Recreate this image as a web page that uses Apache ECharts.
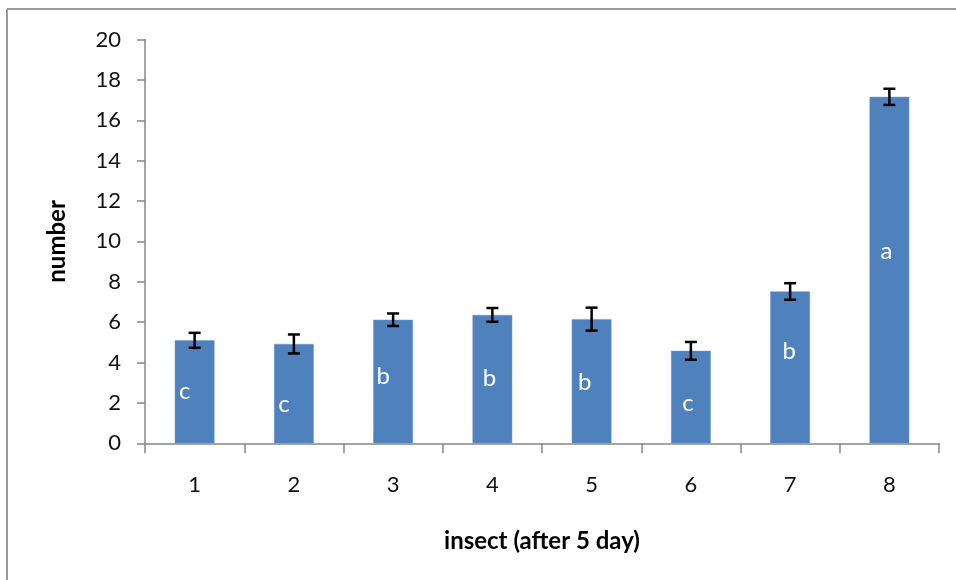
<!DOCTYPE html>
<html>
<head>
<meta charset="utf-8">
<script src="https://cdn.jsdelivr.net/npm/echarts@6/dist/echarts.min.js"></script>
<style>
  html, body { margin: 0; padding: 0; background: #ffffff; }
  #chart { width: 956px; height: 580px; }
</style>
</head>
<body>
<div id="chart"></div>
<script>
// Insect counts after 5 days: mean, error (±) and significance group per insect
const categories = ['1', '2', '3', '4', '5', '6', '7', '8'];
const means = [5.1, 4.92, 6.12, 6.36, 6.15, 4.58, 7.52, 17.16];
const errors = [0.37, 0.47, 0.31, 0.34, 0.57, 0.44, 0.41, 0.4];
const groups = ['c', 'c', 'b', 'b', 'b', 'c', 'b', 'a'];
const yTicks = [0, 2, 4, 6, 8, 10, 12, 14, 16, 18, 20];

// where each group letter sits inside its bar (value units, pixel shift)
const letterHeight = [2.57, 1.95, 3.3, 3.2, 3.02, 2.0, 4.55, 9.5];
const letterShift = [-10, -10, -10, -3, -7, -3, -1, -3];

const FONT = 'Lato, "Open Sans", sans-serif';
const AXIS_GREY = '#878787';

const chart = echarts.init(document.getElementById('chart'), null, { renderer: 'canvas' });

chart.setOption({
  backgroundColor: '#ffffff',
  animation: false,
  grid: { left: 145, right: 17, top: 39.5, bottom: 136.7, containLabel: false },
  graphic: [
    { type: 'line', shape: { x1: 7, y1: 9, x2: 956, y2: 9 }, style: { stroke: '#9a9a9a', lineWidth: 2 } },
    { type: 'line', shape: { x1: 7, y1: 9, x2: 7, y2: 580 }, style: { stroke: '#9a9a9a', lineWidth: 2 } }
  ],
  xAxis: {
    type: 'category',
    data: categories,
    boundaryGap: true,
    name: 'insect (after 5 day)',
    nameLocation: 'middle',
    nameGap: 86,
    nameTextStyle: { fontFamily: FONT, fontSize: 24, fontWeight: 'bold', color: '#000' },
    axisLine: { lineStyle: { color: AXIS_GREY, width: 1.5 } },
    axisTick: { show: true, length: 10, alignWithLabel: false, lineStyle: { color: AXIS_GREY, width: 1.5 } },
    axisLabel: { fontFamily: FONT, fontSize: 22, color: '#111', margin: 31 },
    splitLine: { show: false }
  },
  yAxis: {
    type: 'value',
    min: yTicks[0],
    max: yTicks[yTicks.length - 1],
    interval: yTicks[1] - yTicks[0],
    name: 'number',
    nameLocation: 'middle',
    nameGap: 76,
    nameRotate: 90,
    nameTextStyle: { fontFamily: FONT, fontSize: 24, fontWeight: 'bold', color: '#000' },
    axisLine: { show: true, lineStyle: { color: AXIS_GREY, width: 1.5 } },
    axisTick: { show: true, length: 8, lineStyle: { color: AXIS_GREY, width: 1.5 } },
    axisLabel: { fontFamily: FONT, fontSize: 22, color: '#111', margin: 24 },
    splitLine: { show: false }
  },
  series: [
    {
      type: 'bar',
      data: means,
      barWidth: '40%',
      itemStyle: { color: '#4F81BD', borderColor: '#6b96c9', borderWidth: 0.5 },
      z: 2
    },
    {
      // error bars with caps
      type: 'custom',
      data: means.map((m, i) => [i, m - errors[i], m + errors[i]]),
      renderItem: function (params, api) {
        const x = api.value(0);
        const lo = api.coord([x, api.value(1)]);
        const hi = api.coord([x, api.value(2)]);
        const cap = 6;
        const style = { stroke: '#000', lineWidth: 2.5, fill: null };
        return {
          type: 'group',
          children: [
            { type: 'line', shape: { x1: lo[0], y1: lo[1], x2: hi[0], y2: hi[1] }, style: style },
            { type: 'line', shape: { x1: hi[0] - cap, y1: hi[1], x2: hi[0] + cap, y2: hi[1] }, style: style },
            { type: 'line', shape: { x1: lo[0] - cap, y1: lo[1], x2: lo[0] + cap, y2: lo[1] }, style: style }
          ]
        };
      },
      z: 3
    },
    {
      // significance letters inside the bars
      type: 'custom',
      data: groups.map((g, i) => [i, letterHeight[i], g]),
      renderItem: function (params, api) {
        const i = params.dataIndex;
        const p = api.coord([api.value(0), api.value(1)]);
        return {
          type: 'text',
          x: p[0] + letterShift[i],
          y: p[1],
          style: {
            text: groups[i],
            fill: '#ffffff',
            font: '24px ' + FONT,
            align: 'center',
            verticalAlign: 'middle'
          }
        };
      },
      z: 4
    }
  ]
});
</script>
</body>
</html>
